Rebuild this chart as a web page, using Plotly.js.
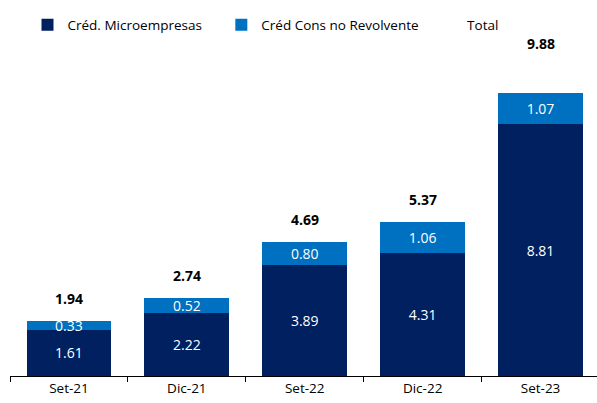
<!DOCTYPE html>
<html>
<head>
<meta charset="utf-8">
<script src="https://cdn.plot.ly/plotly-3.0.1.min.js"></script>
<style>html,body{margin:0;padding:0;background:#fff;}#chart{width:597px;height:403px;}</style>
</head>
<body>
<div id="chart"></div>
<script>
var categories = ["Set-21", "Dic-21", "Set-22", "Dic-22", "Set-23"];
var microempresas = [1.61, 2.22, 3.89, 4.31, 8.81];
var consNoRevolvente = [0.33, 0.52, 0.80, 1.06, 1.07];
var totals = [1.94, 2.74, 4.69, 5.37, 9.88];

var FONT = "'Open Sans', 'Noto Sans', sans-serif";

var traces = [
  {
    type: "bar", name: "Créd. Microempresas", x: categories, y: microempresas,
    marker: {color: "#002060"}, legend: "legend",
    text: microempresas.map(function (v) { return v.toFixed(2); }),
    textposition: "inside", insidetextanchor: "middle", constraintext: "none",
    textangle: 0, insidetextfont: {color: "#ffffff", size: 14, family: FONT},
    hoverinfo: "skip"
  },
  {
    type: "bar", name: "Créd Cons no Revolvente", x: categories, y: consNoRevolvente,
    marker: {color: "#0070C0"}, legend: "legend2",
    text: consNoRevolvente.map(function (v) { return v.toFixed(2); }),
    textposition: "inside", insidetextanchor: "middle", constraintext: "none",
    textangle: 0, insidetextfont: {color: "#ffffff", size: 14, family: FONT},
    hoverinfo: "skip"
  },
  {
    type: "scatter", mode: "markers", name: "Total", x: categories, y: totals,
    legend: "legend3",
    marker: {opacity: 0, size: 1, color: "#ffffff"}, hoverinfo: "skip"
  }
];

var annotations = totals.map(function (v, i) {
  return {
    x: categories[i], y: v, xref: "x", yref: "y",
    text: "<b>" + v.toFixed(2) + "</b>", showarrow: false,
    yanchor: "bottom", yshift: (i === totals.length - 1) ? 38 : 11,
    font: {family: FONT, size: 14, color: "#000000"}
  };
});

var legendFont = {family: FONT, size: 13.5, color: "#000000"};
function legendAt(x) {
  return {orientation: "h", x: x, xanchor: "left", y: 1.045, yanchor: "middle", font: legendFont};
}

var layout = {
  width: 597, height: 403,
  margin: {l: 9.5, r: 0, t: 40, b: 27, pad: 0},
  paper_bgcolor: "#ffffff", plot_bgcolor: "#ffffff",
  barmode: "stack", bargap: 0.28,
  showlegend: true,
  legend: legendAt(0.0298),
  legend2: legendAt(0.36),
  legend3: legendAt(0.7106),
  font: {family: FONT, size: 13.5, color: "#000000"},
  xaxis: {
    type: "category", range: [-0.5, 4.479],
    showline: true, linecolor: "#000000", linewidth: 1,
    ticks: "outside", tickson: "boundaries", ticklen: 5, tickcolor: "#000000",
    showgrid: false, zeroline: false,
    tickfont: {family: FONT, size: 13.5, color: "#000000"}
  },
  yaxis: {
    range: [0, 11.75], visible: false, showgrid: false, zeroline: false
  },
  annotations: annotations
};

Plotly.newPlot("chart", traces, layout, {staticPlot: true, displayModeBar: false});
</script>
</body>
</html>
